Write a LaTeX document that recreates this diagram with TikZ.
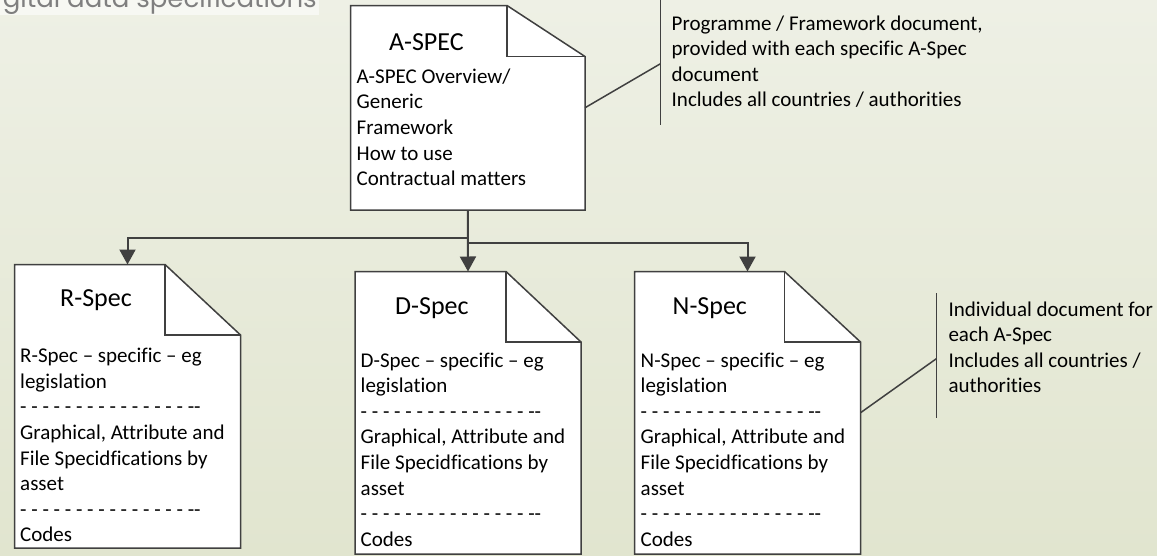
\documentclass[tikz,border=0pt]{standalone}
\usepackage{fontspec}
\setmainfont{Carlito}[Ligatures={TeX,NoCommon}]
\newfontfamily\titlefont{Poppins}
\usetikzlibrary{arrows.meta,calc}
\definecolor{bgtop}{HTML}{EEF0E5}
\definecolor{bgbot}{HTML}{E1E5CF}
\definecolor{ink}{HTML}{404040}
\definecolor{titlegray}{HTML}{7F7F7F}
\definecolor{titlebg}{HTML}{F7F8F3}
\tikzset{
  docnode/.style={rectangle, inner sep=0pt, outer sep=0pt},
  docline/.style={draw=ink, fill=white, line width=1.5pt, line join=miter},
  conn/.style={draw=ink, line width=2pt, -{Triangle[length=15pt,width=16pt]}},
  notebr/.style={draw=ink, line width=1.5pt},
  bodytxt/.style={anchor=base west, inner sep=0pt, align=left, font=\fontsize{21}{25.6}\selectfont},
  headtxt/.style={anchor=base west, inner sep=0pt, font=\fontsize{26}{30}\selectfont},
}
\newcommand\docoutline[3]{%
  \filldraw[docline] (#1.south west) -- (#1.north west) -- ($(#1.north east)+(-#2,0)$) -- ($(#1.north east)+(0,#3)$) -- (#1.south east) -- cycle;
  \draw[docline, fill=none] ($(#1.north east)+(-#2,0)$) -- ($(#1.north east)+(-#2,#3)$) -- ($(#1.north east)+(0,#3)$);
}
\newcommand\dashrow{- - - - - - - - - - - - - - - -{}-}
\begin{document}
\begin{tikzpicture}[x=1pt,y=-1pt]
\useasboundingbox (0,0) rectangle (1157,555);
\shade[top color=bgtop, bottom color=bgbot] (0,0) rectangle (1157,555);
% title fragment
\fill[titlebg] (0,0) rectangle (319,15);
\node[anchor=base east, inner sep=0pt, text=titlegray, font=\titlefont\fontsize{26}{26}\selectfont] (title) at (317,7) {gital data specifications};

% document nodes
\node[docnode, minimum width=234.5pt, minimum height=204.5pt] (A) at (467.75,107.75) {};
\node[docnode, minimum width=226pt, minimum height=283.5pt] (R) at (127.5,406.25) {};
\node[docnode, minimum width=226pt, minimum height=282.5pt] (D) at (468,412.75) {};
\node[docnode, minimum width=226pt, minimum height=282.5pt] (N) at (747.5,412.75) {};

\docoutline{A}{78}{51}
\docoutline{R}{75.5}{70.5}
\docoutline{D}{75}{70.5}
\docoutline{N}{76}{70.5}

% headings
\node[headtxt] (Ah) at (389,50) {A-SPEC};
\node[headtxt] (Rh) at (60,306) {R-Spec};
\node[headtxt] (Dh) at (395,314) {D-Spec};
\node[headtxt] (Nh) at (672.5,314) {N-Spec};

% bodies (anchor at baseline of last line)
\node[bodytxt] (Ab) at (356.5,185.7) {A-SPEC Overview/\\Generic\\Framework\\How to use\\Contractual matters};
\node[bodytxt] (Rb) at (20,541.9) {R-Spec – specific – eg\\legislation\\\dashrow\\Graphical, Attribute and\\File Specidfications by\\asset\\\dashrow\\Codes};
\node[bodytxt] (Db) at (360.5,546.2) {D-Spec – specific – eg\\legislation\\\dashrow\\Graphical, Attribute and\\File Specidfications by\\asset\\\dashrow\\Codes};
\node[bodytxt] (Nb) at (640.5,546.2) {N-Spec – specific – eg\\legislation\\\dashrow\\Graphical, Attribute and\\File Specidfications by\\asset\\\dashrow\\Codes};

% connectors
\draw[conn] (A.south) -- ++(0,28) -| (R.north);
\draw[conn] (A.south) -- (D.north);
\draw[conn] ($(A.south)+(0,33)$) -| (N.north);

% notes
\coordinate (b1top) at (660.5,-2);
\coordinate (b1bot) at (660.5,125);
\coordinate (b1mid) at (660.5,63.7);
\draw[notebr] (b1top) -- (b1bot);
\draw[notebr] (A.east) -- (b1mid);
\node[bodytxt] (n1) at (671.5,106.8) {Programme / Framework document,\\provided with each specific A-Spec\\document\\Includes all countries / authorities};

\coordinate (b2top) at (936.5,293);
\coordinate (b2bot) at (936.5,417.7);
\coordinate (b2mid) at (936.5,358.6);
\draw[notebr] (b2top) -- (b2bot);
\draw[notebr] (N.east) -- (b2mid);
\node[bodytxt] (n2) at (948.3,392.8) {Individual document for\\each A-Spec\\Includes all countries /\\authorities};
\end{tikzpicture}
\end{document}
